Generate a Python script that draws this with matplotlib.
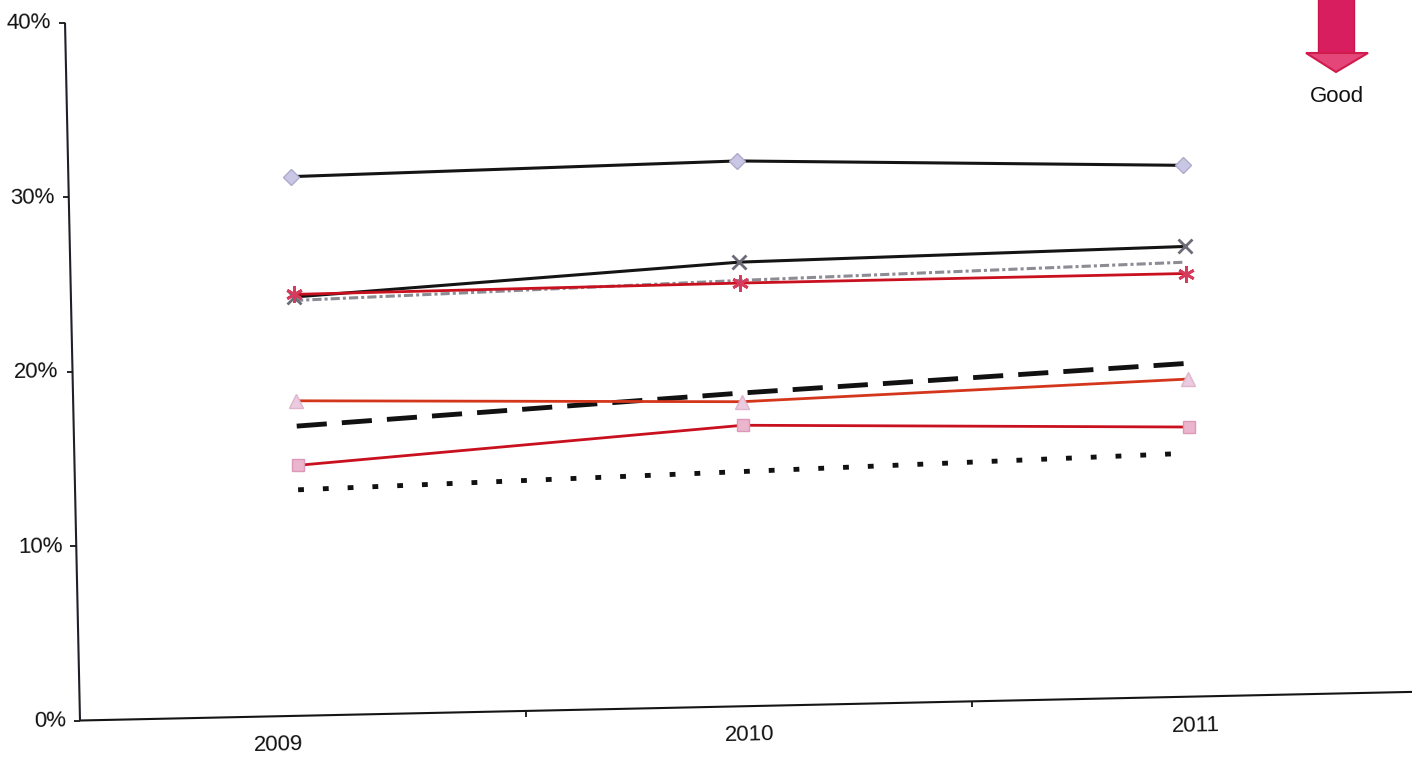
import numpy as np
import matplotlib
matplotlib.use("Agg")
import matplotlib.pyplot as plt
from matplotlib.patches import Polygon
from matplotlib.transforms import Affine2D, IdentityTransform


# ----------------------------------------------------------------------
# DATA (percent)
# ----------------------------------------------------------------------

years = ["2009", "2010", "2011"]
y_ticks = [0, 10, 20, 30, 40]

diamond_series = [30.9, 31.25, 30.45]
cross_series = [24.0, 25.45, 25.8]
star_series = [24.15, 24.25, 24.25]
grey_dotted_series = [23.8, 24.4, 24.9]
triangle_series = [18.05, 17.45, 18.2]
dashed_series = [16.6, 17.95, 19.1]
square_series = [14.35, 16.1, 15.45]
dotted_series = [12.95, 13.45, 13.95]


# ----------------------------------------------------------------------
# FIGURE / FRAME
# ----------------------------------------------------------------------

W, H = 1412, 757
fig = plt.figure(figsize=(W / 100, H / 100), dpi=100)
fig.patch.set_facecolor("white")

# plot frame in pixels: origin, width of 3 categories, height of 0..40%
x0, y0, w, h = 80, 36.5, 1338, 698
ax = fig.add_axes([x0 / W, y0 / H, w / W, h / H])
ax.set_xlim(-0.5, 2.5)
ax.set_ylim(0, 40)
ax.axis("off")

# the whole sheet sits a little tilted
tilt = 1.23
rot = Affine2D().rotate_deg_around(x0, y0, tilt)
tr = ax.transData + rot


def shifted(dx, dy):
    """Data transform with a pixel offset applied before the tilt."""
    return ax.transData + Affine2D().translate(dx, dy) + rot


font = ["Liberation Sans", "DejaVu Sans"]
txt_color = "#111111"
fsize = 16
x = np.arange(len(years))

# ----------------------------------------------------------------------
# AXES
# ----------------------------------------------------------------------

ax.plot([-0.5, 2.5], [0, 0], color="#151515", lw=1.5, transform=tr,
        clip_on=False, solid_capstyle="butt")
ax.plot([-0.5, -0.5], [0, 40], color="#202028", lw=1.5, transform=tr,
        clip_on=False, solid_capstyle="butt")

# tick marks (left on the value axis, down between categories)
ax.plot(np.full(len(y_ticks), -0.5), y_ticks, ls="none", marker=0, ms=4.5,
        mew=1.3, color="#151515", transform=tr, clip_on=False)
ax.plot([0.5, 1.5, 2.5], [0, 0, 0], ls="none", marker=3, ms=4.5,
        mew=1.3, color="#151515", transform=tr, clip_on=False)

for v in y_ticks:
    ax.text(-0.5, v, f"{v}%", transform=shifted(-14, 0), ha="right",
            va="center", rotation=tilt, rotation_mode="anchor",
            fontsize=fsize, family=font, color=txt_color)

# first category label sits a bit further left
label_nudge = [-25, 0, 0]
for i, yr in enumerate(years):
    ax.text(i, 0, yr, transform=shifted(label_nudge[i], -29), ha="center",
            va="center", rotation=tilt, rotation_mode="anchor",
            fontsize=fsize, family=font, color=txt_color)

# ----------------------------------------------------------------------
# SERIES
# ----------------------------------------------------------------------

red = "#c8101e"

ax.plot(x, dotted_series, color="#111111", lw=3.5, ls=(0, (1.2, 3.9)),
        transform=tr, clip_on=False)
ax.plot(x, square_series, color=red, lw=2.0, marker="s", ms=9,
        mfc="#eab6cd", mec="#dc98b6", mew=1.0, transform=tr, clip_on=False)
ax.plot(x, dashed_series, color="#111111", lw=3.5, ls=(0, (6.2, 3.1)),
        transform=tr, clip_on=False)
ax.plot(x, triangle_series, color="#d4361c", lw=2.0, marker="^", ms=10,
        mfc="#ebcbe0", mec="#dfb4cc", mew=1.0, transform=tr, clip_on=False)
ax.plot(x, grey_dotted_series, color="#8c8c94", lw=2.2, ls=(0, (3, 1, 1, 1)),
        transform=tr, clip_on=False)
ax.plot(x, cross_series, color="#141414", lw=2.2, marker="x", ms=10,
        mew=2.0, mec="#6c6c78", transform=tr, clip_on=False)
ax.plot(x, star_series, color=red, lw=2.0, marker=(6, 2, 0), ms=12,
        mew=2.0, mec="#d63a5c", transform=tr, clip_on=False)
ax.plot(x, diamond_series, color="#141414", lw=2.2, marker="D", ms=8,
        mfc="#cac7e6", mec="#aeaacb", mew=1.0, transform=tr, clip_on=False)

# ----------------------------------------------------------------------
# "GOOD" ARROW (pixel coordinates, y measured from the top)
# ----------------------------------------------------------------------


def px(points):
    return [(px_x, H - px_y) for px_x, px_y in points]


shaft = Polygon(px([(1318, -2), (1354, -2), (1354, 54), (1318, 54)]),
                closed=True, facecolor="#d81e5f", edgecolor="#c9164f",
                lw=1.0, transform=IdentityTransform())
head = Polygon(px([(1306, 53), (1368, 53), (1336, 72)]), closed=True,
               facecolor="#e4467a", edgecolor="#d01c4c", lw=1.5,
               transform=IdentityTransform())
fig.add_artist(shaft)
fig.add_artist(head)
fig.text(1337 / W, 1 - 96 / H, "Good", ha="center", va="center",
         fontsize=fsize, family=font, color=txt_color)

fig.savefig("out.png", dpi=100, facecolor="white")
plt.close(fig)
